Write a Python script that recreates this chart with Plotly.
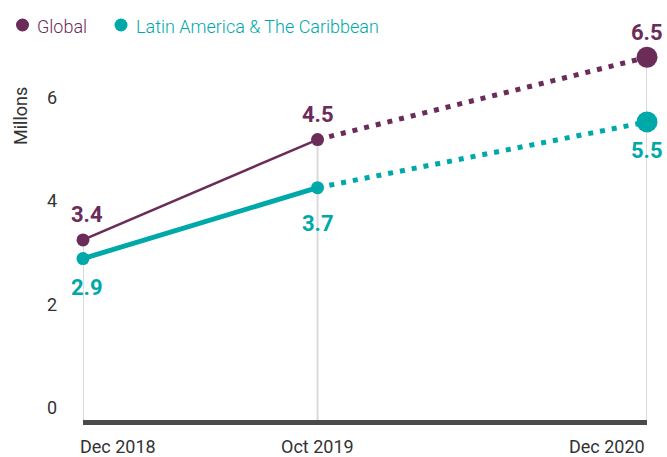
import plotly.graph_objects as go

# ---- data ----
dates = ["2018-12-01", "2019-10-01", "2020-12-01"]
date_labels = ["Dec 2018", "Oct 2019", "Dec 2020"]
global_vals = [3.25, 5.19, 6.78]          # plotted positions (millions)
latam_vals = [2.89, 4.26, 5.53]
global_labels = ["3.4", "4.5", "6.5"]     # printed data labels
latam_labels = ["2.9", "3.7", "5.5"]
series_names = ["Global", "Latin America & The Caribbean"]
y_ticks = [0, 2, 4, 6]

PURPLE = "#6b2c5a"
TEAL = "#00a9a9"
GREY_TXT = "#333333"
FONT = "Roboto"
LIGHT = 300

Y_MIN, Y_MAX = -0.23, 7.5
W, H = 667, 457
ML, MR, MT, MB = 83, 20, 20, 37

fig = go.Figure()

# drop lines from the top series to the baseline
dx, dy = [], []
for d, v in zip(dates, global_vals):
    dx += [d, d, None]
    dy += [Y_MIN, v, None]
fig.add_trace(go.Scatter(x=dx, y=dy, mode="lines", line=dict(color="#dadada", width=2),
                         hoverinfo="skip", showlegend=False, cliponaxis=False))

for vals, color, solid_w in [(latam_vals, TEAL, 5), (global_vals, PURPLE, 2.5)]:
    # solid part
    fig.add_trace(go.Scatter(x=dates[:2], y=vals[:2], mode="lines",
                             line=dict(color=color, width=solid_w),
                             showlegend=False, cliponaxis=False))
    # projected (dotted) part
    fig.add_trace(go.Scatter(x=dates[1:], y=vals[1:], mode="lines",
                             line=dict(color=color, width=5, dash="5px,7px"),
                             showlegend=False, cliponaxis=False))
    # markers
    fig.add_trace(go.Scatter(x=dates, y=vals, mode="markers",
                             marker=dict(color=color, size=[13, 13, 21], opacity=1,
                                         line=dict(width=0)),
                             showlegend=False, cliponaxis=False))

# data labels
for i, d in enumerate(dates):
    xs = 4 if i == 0 else 0
    fig.add_annotation(x=d, y=global_vals[i], text=global_labels[i], showarrow=False,
                       yshift=25, xshift=xs, font=dict(family=FONT, size=22, color=PURPLE, weight="bold"))
    fig.add_annotation(x=d, y=latam_vals[i], text=latam_labels[i], showarrow=False,
                       yshift=-36 if i == 1 else -29, xshift=xs,
                       font=dict(family=FONT, size=22, color=TEAL, weight="bold"))

# x tick labels (left / centre / right aligned)
anchors = ["left", "center", "right"]
for i, (d, lab) in enumerate(zip(dates, date_labels)):
    fig.add_annotation(x=d, y=-27 / (H - MT - MB), xref="x", yref="paper", text=lab,
                       showarrow=False, xanchor=anchors[i], yanchor="middle",
                       xshift=-5 if i == 0 else 0,
                       font=dict(family=FONT, size=18, color=GREY_TXT))

# y axis title
fig.add_annotation(x=(20 - ML) / (W - ML - MR), y=(H - MB - 116) / (H - MT - MB),
                   xref="paper", yref="paper", text="Millons", textangle=-90,
                   showarrow=False, xanchor="center", yanchor="middle",
                   font=dict(family=FONT, size=18, color=GREY_TXT))

# legend
pw, ph = W - ML - MR, H - MT - MB
def px(x):
    return (x - ML) / pw
def py(y):
    return (H - MB - y) / ph
for (cx, tx), name, color in zip([(22.5, 35), (121, 134)], series_names, [PURPLE, TEAL]):
    fig.add_shape(type="circle", xref="paper", yref="paper",
                  x0=px(cx - 6.5), x1=px(cx + 6.5), y0=py(25 + 6.5), y1=py(25 - 6.5),
                  fillcolor=color, line=dict(width=0))
    fig.add_annotation(x=px(tx), y=py(26), xref="paper", yref="paper", text=name,
                       showarrow=False, xanchor="left", yanchor="middle",
                       font=dict(family=FONT, size=18, color=color, weight=LIGHT))

fig.update_layout(
    width=W, height=H,
    margin=dict(l=ML, r=MR, t=MT, b=MB),
    plot_bgcolor="white", paper_bgcolor="white",
    showlegend=False,
    font=dict(family=FONT, size=18, color=GREY_TXT),
    xaxis=dict(type="date", range=[dates[0], dates[-1]], showticklabels=False,
               showgrid=False, zeroline=False, showline=True,
               linecolor="#4a4a4a", linewidth=5, fixedrange=True),
    yaxis=dict(range=[Y_MIN, Y_MAX], tickvals=y_ticks, ticktext=[str(t) for t in y_ticks],
               showgrid=False, zeroline=False, showline=False, ticks="",
               ticklabelstandoff=25, tickfont=dict(family=FONT, size=18, color=GREY_TXT)),
)

fig.write_html("out.html", post_script="document.body.style.margin='0';",
               config={"displayModeBar": False})
